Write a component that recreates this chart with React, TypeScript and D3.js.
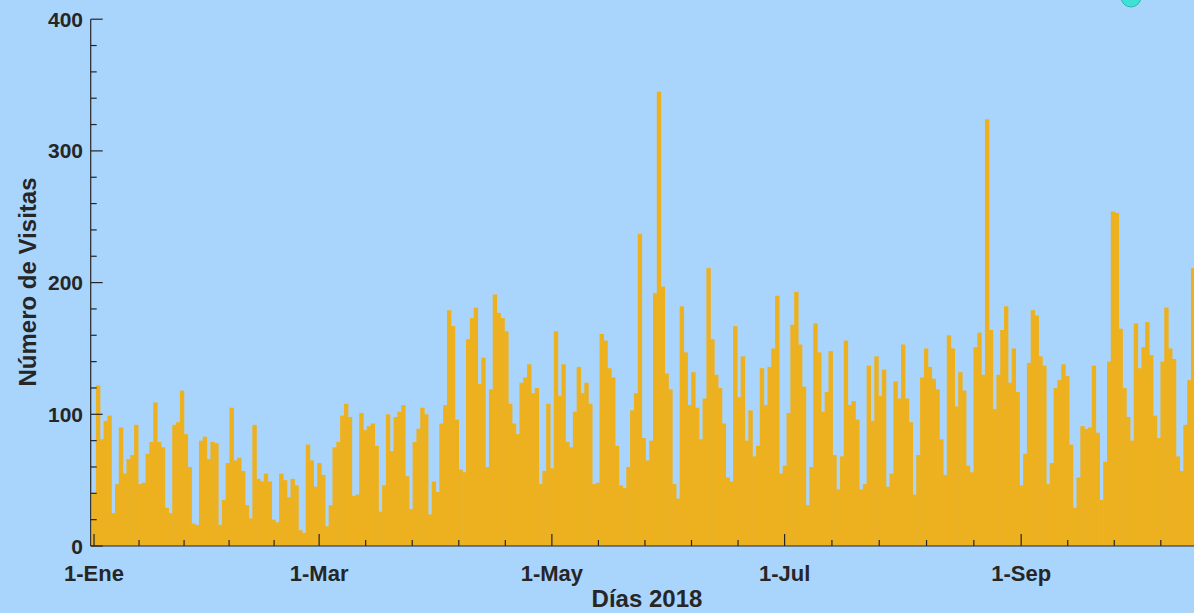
import React, { useRef, useEffect } from 'react';
import * as d3 from 'd3';

// daily visits, 1-Ene-2018 onwards (one value per day)
const visits = [
  40, 122, 81, 95, 99, 25, 47, 90, 55, 66, 69, 92, 47, 48, 70, 79, 109, 79, 75, 29, 25, 92, 94, 118, 85,
  60, 17, 16, 80, 83, 66, 79, 78, 16, 35, 63, 105, 65, 67, 57, 31, 21, 92, 51, 49, 55, 49, 20, 18, 55,
  50, 37, 51, 46, 12, 10, 77, 65, 45, 63, 54, 15, 31, 75, 79, 99, 108, 98, 38, 39, 101, 88, 91, 93, 76,
  26, 46, 100, 72, 98, 102, 107, 53, 28, 79, 89, 105, 100, 24, 49, 41, 93, 107, 179, 167, 96, 58, 56, 157, 173,
  181, 123, 143, 60, 119, 191, 177, 173, 163, 108, 93, 85, 124, 128, 138, 116, 120, 47, 57, 108, 59, 163, 114, 138, 79, 75, 102,
  136, 116, 124, 108, 47, 48, 161, 156, 135, 128, 76, 46, 44, 60, 103, 116, 237, 82, 65, 80, 192, 345, 197, 131, 119, 47,
  36, 182, 147, 107, 132, 105, 81, 112, 211, 157, 130, 120, 93, 52, 49, 167, 113, 144, 80, 103, 68, 76, 135, 107, 136,
  150, 190, 55, 61, 101, 168, 193, 153, 121, 31, 60, 169, 147, 102, 117, 148, 69, 43, 68, 156, 107, 110, 96, 43, 47,
  137, 95, 144, 114, 134, 45, 55, 125, 112, 153, 112, 94, 39, 69, 128, 150, 136, 127, 119, 81, 54, 160, 150, 106, 132, 118,
  61, 56, 151, 162, 130, 324, 164, 104, 130, 164, 182, 124, 150, 117, 46, 70, 139, 179, 175, 144, 137, 47, 63, 120, 126,
  138, 129, 77, 29, 52, 91, 89, 90, 137, 86, 35, 64, 140, 254, 253, 165, 120, 98, 80, 169, 135, 151, 170, 145, 99,
  82, 140, 181, 150, 142, 68, 57, 92, 126, 211,
];

const monthNames = ['Ene', 'Feb', 'Mar', 'Abr', 'May', 'Jun', 'Jul', 'Ago', 'Sep', 'Oct', 'Nov', 'Dic'];
const yMajor = [0, 100, 200, 300, 400];
const yMinorStep = 20;
const xTitle = 'Días 2018';
const yTitle = 'Número de Visitas';

const DAY = 86400000;
const start = Date.UTC(2018, 0, 1);

const W = 1194;
const H = 613;
const font = '"Liberation Sans", Arial, Helvetica, sans-serif';
const ink = '#262626';

const App = () => {
  const chartRef = useRef(null);

  useEffect(() => {
    renderChart(chartRef.current);
  }, []);

  const renderChart = (node) => {
    if (!node) return;
    const svg = d3.select(node);
    svg.selectAll('*').remove();

    const x = d3
      .scaleUtc()
      .domain([new Date(start - 0.87 * DAY), new Date(start + 288.3 * DAY)])
      .range([90.7, W]);
    const y = d3.scaleLinear().domain([0, 400]).range([546, 19.2]);

    const bw = x(new Date(start + DAY)) - x(new Date(start));

    svg.append('rect').attr('width', W).attr('height', H).attr('fill', '#a9d5fd');

    // bars
    svg
      .append('g')
      .attr('fill', '#EDB120')
      .selectAll('rect')
      .data(visits)
      .enter()
      .append('rect')
      .attr('x', (d, i) => x(new Date(start + i * DAY)) - bw / 2)
      .attr('width', bw + 0.6)
      .attr('y', d => y(d))
      .attr('height', d => y(0) - y(d));

    const axis = svg.append('g').attr('stroke', ink).attr('stroke-width', 1.2);

    // axis lines
    axis.append('line').attr('x1', 90.7).attr('x2', W).attr('y1', y(0)).attr('y2', y(0));
    axis.append('line').attr('x1', 90.7).attr('x2', 90.7).attr('y1', y(0)).attr('y2', y(400));

    // y ticks
    const yMinor = d3.range(0, 401, yMinorStep).filter(v => v % 100 !== 0);
    axis
      .selectAll('.ymin')
      .data(yMinor)
      .enter()
      .append('line')
      .attr('x1', 90.7)
      .attr('x2', 96.7)
      .attr('y1', d => y(d))
      .attr('y2', d => y(d));
    axis
      .selectAll('.ymaj')
      .data(yMajor)
      .enter()
      .append('line')
      .attr('x1', 90.7)
      .attr('x2', 102.7)
      .attr('y1', d => y(d))
      .attr('y2', d => y(d));

    // x ticks: every two months, with four minor ticks in between
    const majors = d3.utcMonth.every(2).range(new Date(start), new Date(Date.UTC(2018, 10, 2)));
    const majorPx = majors.map(d => x(d));
    const minorPx = [];
    for (let k = 0; k < majorPx.length - 1; k++) {
      for (let j = 1; j < 5; j++) minorPx.push(majorPx[k] + ((majorPx[k + 1] - majorPx[k]) * j) / 5);
    }
    axis
      .selectAll('.xmin')
      .data(minorPx.filter(p => p < W))
      .enter()
      .append('line')
      .attr('x1', d => d)
      .attr('x2', d => d)
      .attr('y1', y(0))
      .attr('y2', y(0) - 6);
    const shownMajors = majors.filter(d => x(d) < W);
    axis
      .selectAll('.xmaj')
      .data(shownMajors)
      .enter()
      .append('line')
      .attr('x1', d => x(d))
      .attr('x2', d => x(d))
      .attr('y1', y(0))
      .attr('y2', y(0) - 12);

    const labels = svg
      .append('g')
      .attr('fill', ink)
      .attr('font-family', font)
      .attr('font-weight', 'bold')
      .attr('font-size', 21);

    labels
      .selectAll('.yl')
      .data(yMajor)
      .enter()
      .append('text')
      .attr('x', 83)
      .attr('y', d => y(d))
      .attr('dy', '0.36em')
      .attr('text-anchor', 'end')
      .text(d => d);

    labels
      .selectAll('.xl')
      .data(shownMajors)
      .enter()
      .append('text')
      .attr('x', d => x(d))
      .attr('y', 581)
      .attr('text-anchor', 'middle')
      .attr('font-size', 22)
      .text(d => '1-' + monthNames[d.getUTCMonth()]);

    labels
      .append('text')
      .attr('x', 647)
      .attr('y', 607)
      .attr('text-anchor', 'middle')
      .attr('font-size', 24)
      .text(xTitle);

    labels
      .append('text')
      .attr('transform', 'translate(36,282) rotate(-90)')
      .attr('text-anchor', 'middle')
      .attr('font-size', 24)
      .text(yTitle);

    // marker peeking in at the top edge
    svg
      .append('circle')
      .attr('cx', 1131)
      .attr('cy', -3)
      .attr('r', 10)
      .attr('fill', '#3fe0d6')
      .attr('stroke', '#2bb8b0')
      .attr('stroke-width', 1);
  };

  return (
    <svg
      ref={chartRef}
      width={W}
      height={H}
      style={{ position: 'absolute', left: 0, top: 0, display: 'block' }}
    />
  );
};

export default App;
